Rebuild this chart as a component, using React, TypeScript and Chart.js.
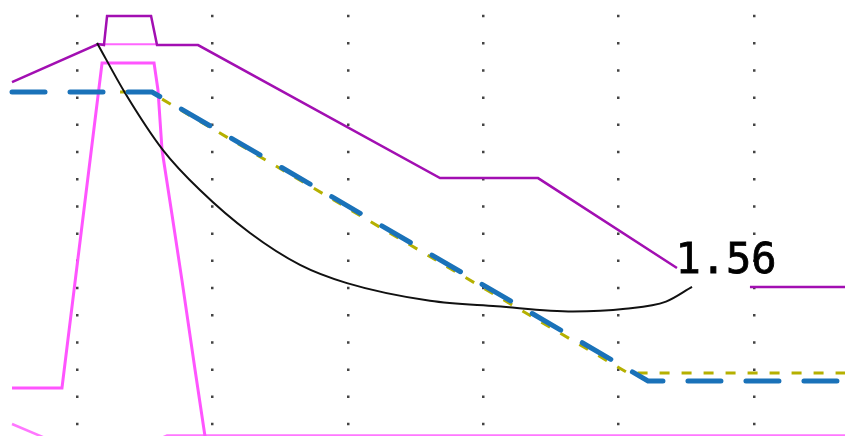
import React, { useEffect, useRef } from "react";
import { Chart, registerables } from "chart.js";

Chart.register(...registerables);

// x in grid units (vertical dotted lines at 0,10,...,50), y in dot-row units (rows at 0,10,...,150)
const gridX = [0, 10, 20, 30, 40, 50];

const purpleX = [-4.8, 1.55, 1.99, 2.22, 5.47, 5.91, 8.94, 26.81, 34.05, 44.31, 47.0, 49.7, 56.72];
const purpleY = [125.7, 139.7, 139.3, 150, 150, 139.3, 139.3, 90.4, 90.4, 57.35, null, 50.4, 50.4];

const pinkFlatX = [1.55, 5.91];
const pinkFlatY = [139.6, 139.6];

const pinkX = [-4.8, -1.11, 1.85, 5.69, 5.98, 6.28, 7.02, 7.75, 8.72, 9.45, 9.7];
const pinkY = [13.24, 13.24, 132.7, 132.7, 122.8, 100.7, 76.8, 52.9, 19.85, -4.41, -6];

const pinkLowX = [-4.8, -1.0, 5.0, 6.65, 56.72];
const pinkLowY = [0, -8, -8, -4.2, -4.2];

const blackX = [1.48, 3.55, 6.35, 9.08, 12.78, 16.47, 19.94, 26.07, 31.0, 36.63, 40.5, 43.5, 45.42];
const blackY = [140.1, 121.7, 100.7, 86.0, 70.2, 58.5, 51.8, 45.3, 43.3, 41.4, 42.4, 45.0, 50.4];

const blueX = [-4.8, 5.54, 42.17, 56.72];
const blueY = [122.06, 122.06, 15.81, 15.81];

const oliveX = [3.18, 5.39, 40.69, 56.72];
const oliveY = [122.06, 122.06, 18.75, 18.75];

const labelText = "1.56";
const labelX = 44.2;
const labelY = 55.5;

const X_MIN = -5.687;
const X_MAX = 56.72;
const Y_MIN = -4.41;
const Y_MAX = 155.88;

const zip = (xs: number[], ys: (number | null)[]) => xs.map((x, i) => ({ x, y: ys[i] }));

export default function App() {
  const canvasRef = useRef<HTMLCanvasElement | null>(null);
  const labelRef = useRef<HTMLDivElement | null>(null);

  useEffect(() => {
    if (!canvasRef.current) return;
    const chart = new Chart(canvasRef.current, {
      type: "line",
      data: {
        datasets: [
          {
            label: "blue",
            data: zip(blueX, blueY),
            borderColor: "#1a72b9",
            borderWidth: 5,
            borderDash: [33, 25],
            borderCapStyle: "round",
            pointRadius: 0,
            order: 1,
          },
          {
            label: "black",
            data: zip(blackX, blackY),
            borderColor: "#111111",
            borderWidth: 2,
            cubicInterpolationMode: "monotone",
            pointRadius: 0,
            order: 2,
          },
          {
            label: "olive",
            data: zip(oliveX, oliveY),
            borderColor: "#b5b000",
            borderWidth: 3,
            borderDash: [10, 12],
            pointRadius: 0,
            order: 3,
          },
          {
            label: "purple",
            data: zip(purpleX, purpleY),
            borderColor: "#a20fb2",
            borderWidth: 2.5,
            pointRadius: 0,
            order: 4,
          },
          {
            label: "pinkFlat",
            data: zip(pinkFlatX, pinkFlatY),
            borderColor: "#ff66ff",
            borderWidth: 2,
            pointRadius: 0,
            order: 5,
          },
          {
            label: "pink",
            data: zip(pinkX, pinkY),
            borderColor: "#ff55ff",
            borderWidth: 3,
            pointRadius: 0,
            order: 6,
          },
          {
            label: "pinkLow",
            data: zip(pinkLowX, pinkLowY),
            borderColor: "#ff77ff",
            borderWidth: 2.5,
            pointRadius: 0,
            order: 7,
          },
        ],
      },
      options: {
        animation: false,
        responsive: false,
        layout: { padding: 0 },
        plugins: {
          legend: { display: false },
          tooltip: { enabled: false },
          title: { display: false },
        },
        scales: {
          x: {
            type: "linear",
            min: X_MIN,
            max: X_MAX,
            afterBuildTicks: (s: any) => {
              s.ticks = gridX.map((v) => ({ value: v }));
            },
            ticks: { display: false },
            grid: { display: true, color: "#444444", lineWidth: 2.5, drawTicks: false },
            border: { display: false, dash: [2.5, 24.7], dashOffset: 12.4 },
          },
          y: {
            type: "linear",
            min: Y_MIN,
            max: Y_MAX,
            display: false,
          },
        },
      },
    });

    if (labelRef.current) {
      const fs = 42;
      const left = chart.scales.x.getPixelForValue(labelX);
      const top = chart.scales.y.getPixelForValue(labelY) - 0.846 * fs;
      labelRef.current.style.left = left + "px";
      labelRef.current.style.top = top + "px";
    }

    return () => chart.destroy();
  }, []);

  return (
    <div
      style={{
        position: "fixed",
        left: 0,
        top: 0,
        width: 845,
        height: 436,
        background: "#ffffff",
        overflow: "hidden",
      }}
    >
      <canvas ref={canvasRef} width={845} height={436} style={{ display: "block" }} />
      <div
        ref={labelRef}
        style={{
          position: "absolute",
          fontFamily: "'DejaVu Sans Mono', monospace",
          fontSize: 42,
          lineHeight: 1,
          color: "#000000",
          whiteSpace: "nowrap",
          WebkitTextStroke: "0.8px #000000",
        }}
      >
        {labelText}
      </div>
    </div>
  );
}
